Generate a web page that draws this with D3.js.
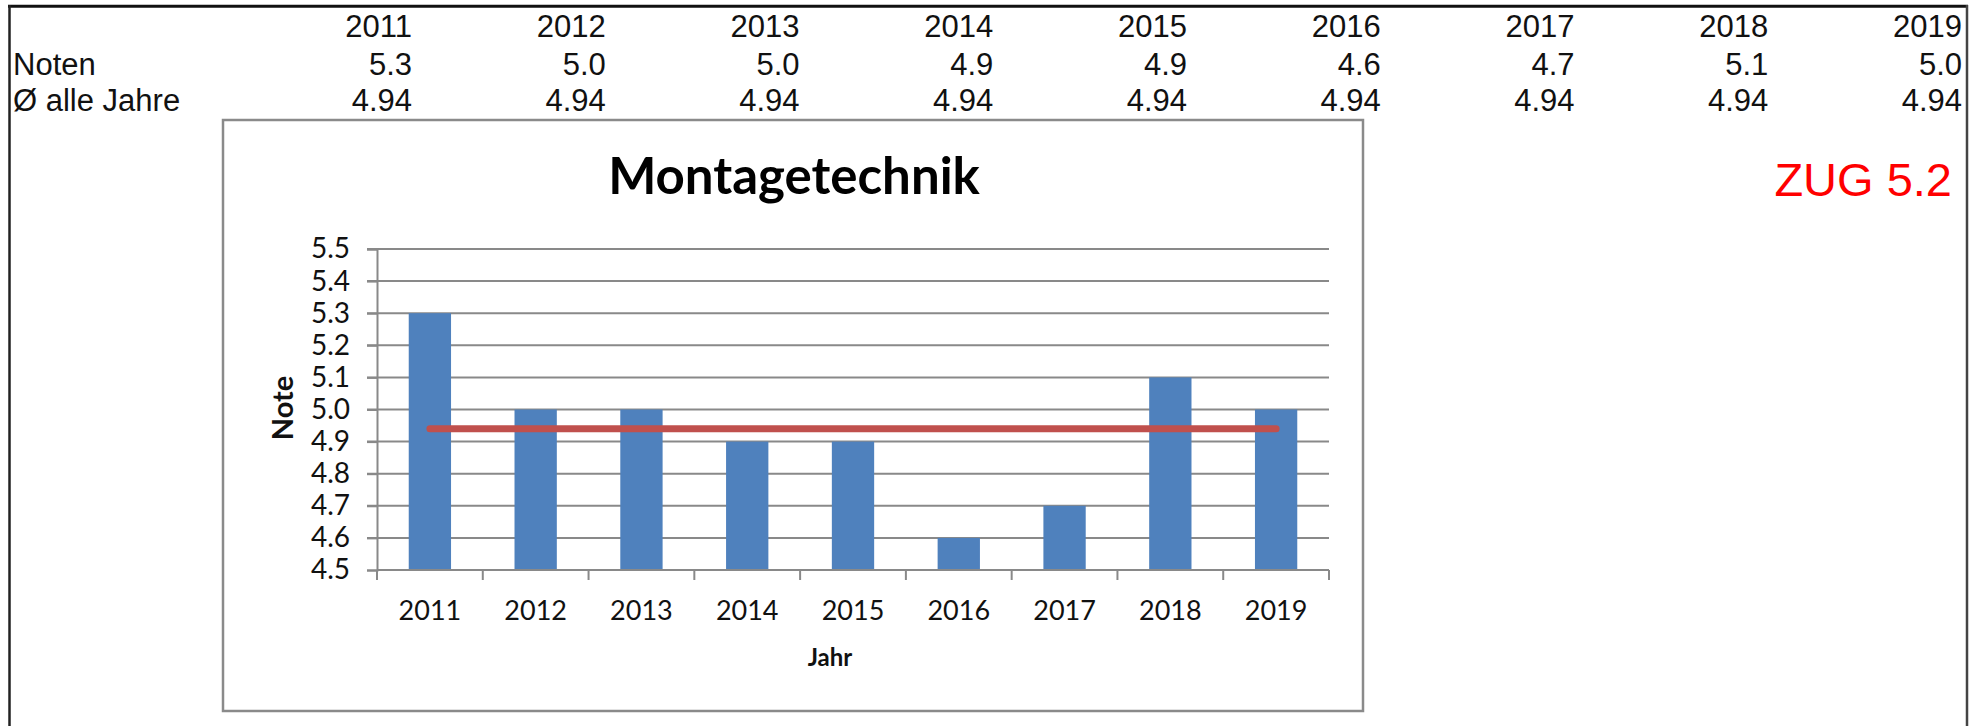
<!DOCTYPE html>
<html>
<head>
<meta charset="utf-8">
<script src="https://cdn.jsdelivr.net/npm/d3@7"></script>
<style>
  html, body { margin: 0; padding: 0; background: #fff; }
  svg { display: block; }
</style>
</head>
<body>
<svg id="chart" width="1985" height="726"></svg>
<script>
// ---- data ----
const years = ["2011","2012","2013","2014","2015","2016","2017","2018","2019"];
const noten = [5.3, 5.0, 5.0, 4.9, 4.9, 4.6, 4.7, 5.1, 5.0];
const avgAll = [4.94, 4.94, 4.94, 4.94, 4.94, 4.94, 4.94, 4.94, 4.94];
const yTicks = [4.5, 4.6, 4.7, 4.8, 4.9, 5.0, 5.1, 5.2, 5.3, 5.4, 5.5];
const rowLabels = ["Noten", "Ø alle Jahre"];
const chartTitle = "Montagetechnik";
const xTitle = "Jahr";
const yTitle = "Note";
const sideLabel = "ZUG 5.2";

const svg = d3.select("#chart");
const tableFont = "'Liberation Sans', Arial, sans-serif";
const chartFont = "Lato, 'Open Sans', sans-serif";

// ---- outer frame ----
svg.append("line").attr("x1", 8).attr("x2", 1968).attr("y1", 6.3).attr("y2", 6.3)
  .attr("stroke", "#111").attr("stroke-width", 3);
svg.append("line").attr("x1", 9.5).attr("x2", 9.5).attr("y1", 5).attr("y2", 726)
  .attr("stroke", "#222").attr("stroke-width", 2.5);
svg.append("line").attr("x1", 1967).attr("x2", 1967).attr("y1", 5).attr("y2", 726)
  .attr("stroke", "#444").attr("stroke-width", 2.5);

// ---- header table ----
const colScale = d3.scaleBand().domain(years).range([218.25, 1962]);
const table = svg.append("g").attr("font-family", tableFont).attr("font-size", 31).attr("fill", "#111");
table.selectAll("text.yr").data(years).join("text").attr("class", "yr")
  .attr("x", d => colScale(d) + colScale.bandwidth()).attr("y", 37)
  .attr("text-anchor", "end").text(d => d);
table.selectAll("text.nt").data(noten).join("text").attr("class", "nt")
  .attr("x", (d, i) => colScale(years[i]) + colScale.bandwidth()).attr("y", 75)
  .attr("text-anchor", "end").text(d => d3.format(".1f")(d));
table.selectAll("text.av").data(avgAll).join("text").attr("class", "av")
  .attr("x", (d, i) => colScale(years[i]) + colScale.bandwidth()).attr("y", 111)
  .attr("text-anchor", "end").text(d => d3.format(".2f")(d));
table.selectAll("text.rl").data(rowLabels).join("text").attr("class", "rl")
  .attr("x", 13).attr("y", (d, i) => i === 0 ? 75 : 111).text(d => d);

// ---- side label ----
svg.append("text").attr("x", 1952).attr("y", 196).attr("text-anchor", "end")
  .attr("font-family", tableFont).attr("font-size", 47).attr("fill", "#ff0000").text(sideLabel);

// ---- chart box ----
svg.append("rect").attr("x", 223).attr("y", 120).attr("width", 1140).attr("height", 591)
  .attr("fill", "#fff").attr("stroke", "#8a8a8a").attr("stroke-width", 2.5);

const plotL = 377, plotR = 1329, plotT = 249, plotB = 570;
const x = d3.scaleBand().domain(years).range([plotL, plotR]).paddingInner(0).paddingOuter(0);
const y = d3.scaleLinear().domain([4.5, 5.5]).range([plotB, plotT]);
const barW = x.bandwidth() * 0.4;

// title
svg.append("text").attr("x", 794).attr("y", 194).attr("text-anchor", "middle")
  .attr("font-family", chartFont).attr("font-weight", "bold").attr("font-size", 51)
  .attr("fill", "#000").text(chartTitle);

// gridlines
const gridColor = "#898989";
svg.append("g").selectAll("line").data(yTicks.slice(1)).join("line")
  .attr("x1", plotL - 10).attr("x2", plotR)
  .attr("y1", d => y(d)).attr("y2", d => y(d))
  .attr("stroke", gridColor).attr("stroke-width", 2);

// bars
svg.append("g").selectAll("rect").data(noten).join("rect")
  .attr("x", (d, i) => x(years[i]) + (x.bandwidth() - barW) / 2)
  .attr("y", d => y(d))
  .attr("width", barW)
  .attr("height", d => y(4.5) - y(d))
  .attr("fill", "#4F81BD");

// y axis
const yAxis = d3.axisLeft(y).tickValues(yTicks).tickFormat(d3.format(".1f")).tickSize(10).tickPadding(17);
const gy = svg.append("g").attr("transform", `translate(${plotL},0)`).call(yAxis);
gy.select(".domain").attr("stroke", gridColor).attr("stroke-width", 2);
gy.selectAll(".tick line").attr("stroke", gridColor).attr("stroke-width", 2);
gy.selectAll(".tick text").attr("font-family", chartFont).attr("font-size", 28).attr("fill", "#111");

// x axis (ticks at category boundaries)
const gx = svg.append("g").attr("transform", `translate(0,${plotB})`);
gx.append("line").attr("x1", plotL).attr("x2", plotR).attr("y1", 0).attr("y2", 0)
  .attr("stroke", gridColor).attr("stroke-width", 2);
const bounds = years.map(d => x(d)).concat([x(years[years.length - 1]) + x.bandwidth()]);
gx.selectAll("line.tk").data(bounds).join("line").attr("class", "tk")
  .attr("x1", d => d).attr("x2", d => d).attr("y1", 0).attr("y2", 10)
  .attr("stroke", gridColor).attr("stroke-width", 2);
gx.selectAll("text").data(years).join("text")
  .attr("x", d => x(d) + x.bandwidth() / 2).attr("y", 50)
  .attr("text-anchor", "middle").attr("font-family", chartFont).attr("font-size", 27)
  .attr("fill", "#111").text(d => d);

// average line
const line = d3.line().x((d, i) => x(years[i]) + x.bandwidth() / 2).y(d => y(d));
svg.append("path").datum(avgAll).attr("d", line)
  .attr("fill", "none").attr("stroke", "#C0504D").attr("stroke-width", 7)
  .attr("stroke-linecap", "round");

// axis titles
svg.append("text").attr("x", 830).attr("y", 666).attr("text-anchor", "middle")
  .attr("font-family", chartFont).attr("font-weight", "bold").attr("font-size", 24)
  .attr("fill", "#111").text(xTitle);
svg.append("text").attr("transform", "translate(293,408) rotate(-90)").attr("text-anchor", "middle")
  .attr("font-family", chartFont).attr("font-weight", "bold").attr("font-size", 29)
  .attr("fill", "#111").text(yTitle);
</script>
</body>
</html>
